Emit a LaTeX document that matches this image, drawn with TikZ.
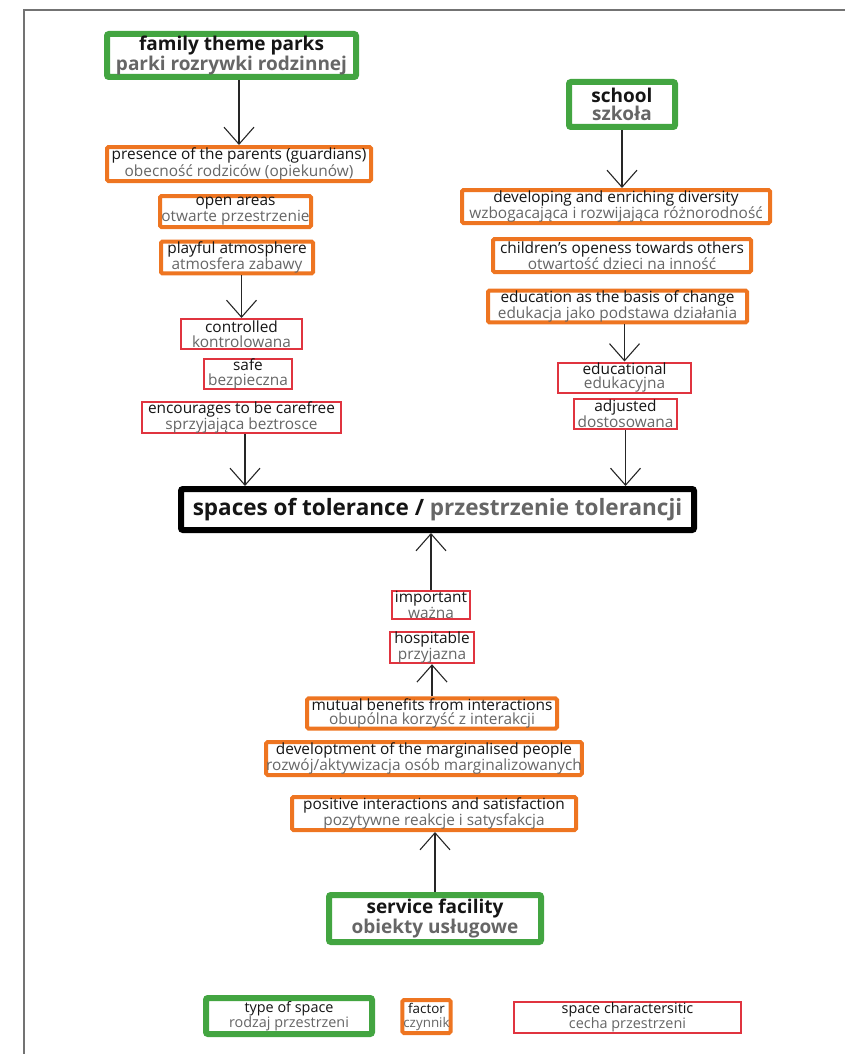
\documentclass[tikz,border=0pt]{standalone}
\usepackage{fontspec}
\setmainfont{Open Sans}
\usetikzlibrary{arrows.meta}
\definecolor{bgreen}{HTML}{43A541}
\definecolor{borange}{HTML}{EE7521}
\definecolor{bred}{HTML}{E0343F}
\definecolor{tgray}{HTML}{666666}
\definecolor{tblack}{HTML}{151515}
\newcommand{\tw}[2]{{\color{tblack}#1}\\{\color{tgray}#2}}
\tikzset{
  base/.style={rectangle, align=center, inner sep=0pt, fill=white, font=\fontsize{15.4}{14.6}\selectfont},
  typebox/.style={base, draw=bgreen, line width=6pt, rounded corners=2pt, font=\bfseries\fontsize{19}{18}\selectfont},
  legtype/.style={base, draw=bgreen, line width=6pt, rounded corners=2pt, font=\fontsize{14.4}{14.2}\selectfont},
  factorbox/.style={base, draw=borange, line width=4pt, rounded corners=1.5pt},
  charbox/.style={base, draw=bred, line width=2pt},
  legfactor/.style={factorbox, inner xsep=1pt, font=\fontsize{13.4}{14}\selectfont},
  legchar/.style={charbox, font=\fontsize{14.4}{14.2}\selectfont},
  mainbox/.style={base, draw=black, line width=6pt, rounded corners=2pt, font=\bfseries\fontsize{22.5}{24}\selectfont},
  conn/.style={draw=black!85, line width=1.1pt, -{Straight Barb[length=17pt,width=30pt,line width=1.1pt]}},
  frameline/.style={draw=black!55, line width=1.5pt}
}
\begin{document}
\begin{tikzpicture}[x=1pt,y=-1pt]
\useasboundingbox (0,0) rectangle (845,1054);
\draw[frameline] (24,1054) -- (24,10) -- (845,10);

% left column
\node[typebox, minimum width=249, minimum height=43] (fam) at (231.5,55.5) {\tw{family theme parks}{parki rozrywki rodzinnej}};
\node[factorbox, minimum width=264, minimum height=34] (pres) at (239,164) {\tw{presence of the parents (guardians)}{obecność rodziców (opiekunów)}};
\node[factorbox, minimum width=151, minimum height=31] (open) at (235.5,211.5) {\tw{open areas}{otwarte przestrzenie}};
\node[factorbox, minimum width=152, minimum height=29] (play) at (237,257.5) {\tw{playful atmosphere}{atmosfera zabawy}};
\node[charbox, minimum width=121, minimum height=30] (ctrl) at (241.5,334) {\tw{controlled}{kontrolowana}};
\node[charbox, minimum width=88, minimum height=30] (safe) at (248,374) {\tw{safe}{bezpieczna}};
\node[charbox, minimum width=199, minimum height=31] (enc) at (241.5,417.5) {\tw{encourages to be carefree}{sprzyjająca beztrosce}};

% central
\node[mainbox, minimum width=513, minimum height=41] (tol) at (437.5,509.5) {{\color{tblack}spaces of tolerance /} {\color{tgray}przestrzenie tolerancji}};

% right column
\node[typebox, minimum width=106, minimum height=45] (school) at (622,104.5) {\tw{school}{szkoła}};
\node[factorbox, minimum width=308, minimum height=33] (dev) at (616,206.5) {\tw{developing and enriching diversity}{wzbogacająca i rozwijająca różnorodność}};
\node[factorbox, minimum width=258, minimum height=33] (child) at (622,255.5) {\tw{children's openess towards others}{otwartość dzieci na inność}};
\node[factorbox, minimum width=259, minimum height=31] (edu) at (617.5,306.5) {\tw{education as the basis of change}{edukacja jako podstawa działania}};
\node[charbox, minimum width=133, minimum height=29] (educ) at (624.5,377.5) {\tw{educational}{edukacyjna}};
\node[charbox, minimum width=103, minimum height=30] (adj) at (625.5,414) {\tw{adjusted}{dostosowana}};

% bottom column
\node[charbox, minimum width=78, minimum height=28] (imp) at (431,605) {\tw{important}{ważna}};
\node[charbox, minimum width=84, minimum height=31] (hosp) at (432,647.5) {\tw{hospitable}{przyjazna}};
\node[factorbox, minimum width=250, minimum height=29] (mut) at (432,713.5) {\tw{mutual benefits from interactions}{obupólna korzyść z interakcji}};
\node[factorbox, minimum width=310, minimum height=33] (marg) at (424,758.5) {\tw{developtment of the marginalised people}{rozwój/aktywizacja osób marginalizowanych}};
\node[factorbox, minimum width=284, minimum height=33] (pos) at (434,813.5) {\tw{positive interactions and satisfaction}{pozytywne reakcje i satysfakcja}};
\node[typebox, minimum width=212, minimum height=47] (serv) at (435,918.5) {\tw{service facility}{obiekty usługowe}};

% legend
\node[legtype, minimum width=166, minimum height=36] (lg1) at (289,1016) {\tw{type of space}{rodzaj przestrzeni}};
\node[legfactor, minimum width=45, minimum height=33] (lg2) at (426.5,1016.5) {\tw{factor}{czynnik}};
\node[legchar, minimum width=227, minimum height=31] (lg3) at (627.5,1017.5) {\tw{space charactersitic}{cecha przestrzeni}};

% connectors
\draw[conn] (fam.south -| pres.north) -- (pres.north);
\draw[conn] (play.south -| ctrl.north) -- (ctrl.north);
\draw[conn] ([xshift=3.5pt]enc.south) -- ([xshift=3.5pt]enc.south |- tol.north);
\draw[conn] (school.south) -- (school.south |- dev.north);
\draw[conn] (edu.south -| educ.north) -- (educ.north);
\draw[conn] (adj.south) -- (adj.south |- tol.north);
\draw[conn] (imp.north) -- (imp.north |- tol.south);
\draw[conn] (mut.north) -- (hosp.south);
\draw[conn] (serv.north) -- (serv.north |- pos.south);
\end{tikzpicture}
\end{document}
